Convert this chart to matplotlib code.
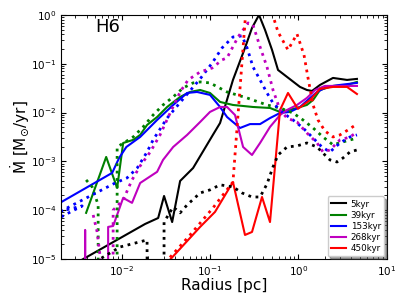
import numpy as np
import matplotlib
matplotlib.use('Agg')
import matplotlib.pyplot as plt

# radius [pc] vs mass inflow rate [Msun/yr]; solid and dotted curve per snapshot
r_5 = [0.00322, 0.0184, 0.0259, 0.0302, 0.0373, 0.0459, 0.0644, 0.108, 0.130, 0.182, 0.249, 0.299,
       0.359, 0.420, 0.504, 0.589, 0.745, 1.045, 1.25, 1.43, 1.76, 2.47, 3.56, 4.61]
md_5 = [8.7e-6, 5.2e-5, 6.9e-5, 1.95e-4, 5.7e-5, 3.96e-4, 7.3e-4, 3.5e-3, 6.1e-3, 0.0466, 0.211, 0.542,
        1.0, 0.493, 0.192, 0.0746, 0.0537, 0.0335, 0.029, 0.0277, 0.0368, 0.0512, 0.0466, 0.0489]
r_5d = [0.00501, 0.00961, 0.0194, 0.0239, 0.0302, 0.0383, 0.0459, 0.0551, 0.0773, 0.100, 0.130, 0.182,
        0.231, 0.299, 0.369, 0.442, 0.517, 0.589, 0.745, 0.966, 1.25, 1.63, 2.00, 2.28, 2.74, 3.20, 3.85, 4.61]
md_5d = [8.7e-6, 1.76e-5, 2.45e-5, 0, 5.7e-5, 1.16e-4, 8.8e-5, 1.28e-4, 2.25e-4, 2.6e-4, 3.3e-4, 3.0e-4,
         2.25e-4, 1.86e-4, 1.86e-4, 3.44e-4, 7.7e-4, 1.35e-3, 1.97e-3, 2.07e-3, 2.38e-3, 1.97e-3, 1.35e-3,
         1.07e-3, 9.7e-4, 1.17e-3, 1.56e-3, 1.71e-3]

r_39 = [0.00396, 0.00668, 0.00889, 0.0104, 0.0135, 0.0162, 0.0194, 0.0252, 0.0327, 0.0459, 0.0595, 0.0773,
        0.100, 0.130, 0.182, 0.307, 0.478, 0.621, 0.966, 1.25, 1.47, 1.76, 2.47, 3.56, 4.61]
md_39 = [8.8e-5, 1.23e-3, 2.85e-4, 2.38e-3, 2.75e-3, 3.48e-3, 5.57e-3, 8.1e-3, 0.0130, 0.0209, 0.0264, 0.0290,
         0.0252, 0.0165, 0.0143, 0.0130, 0.0124, 0.0103, 0.0124, 0.0143, 0.0181, 0.0290, 0.0351, 0.0368, 0.0424]
r_39d = [0.00396, 0.00463, 0.00542, 0.00686, 0.00889, 0.0110, 0.0135, 0.0175, 0.0227, 0.0294, 0.0383, 0.0496,
         0.0644, 0.0773, 0.100, 0.156, 0.263, 0.442, 0.621, 0.871, 1.13, 1.47, 1.90, 2.47, 3.20, 4.61]
md_39d = [4.16e-4, 3.0e-4, 1.28e-4, 0, 1.97e-3, 2.5e-3, 3.16e-3, 5.07e-3, 8.9e-3, 0.0143, 0.0209, 0.0319,
          0.0405, 0.0424, 0.0405, 0.0264, 0.0199, 0.0143, 0.0124, 9.8e-3, 7.05e-3, 4.83e-3, 3.16e-3, 2.18e-3,
          2.5e-3, 3.0e-3]

r_153 = [0.00200, 0.00781, 0.00935, 0.0113, 0.0162, 0.0252, 0.0383, 0.0551, 0.0714, 0.100, 0.130, 0.156,
         0.219, 0.284, 0.369, 0.478, 0.621, 0.805, 1.045, 1.36, 1.63, 2.11, 2.96, 4.61]
md_153 = [1.41e-4, 5.8e-4, 1.17e-3, 1.97e-3, 3.16e-3, 7.05e-3, 0.0143, 0.0252, 0.0264, 0.0230, 0.0130, 8.1e-3,
          4.83e-3, 5.8e-3, 5.8e-3, 7.7e-3, 9.8e-3, 0.0103, 0.0130, 0.0199, 0.0264, 0.0335, 0.0368, 0.0405]
r_153d = [0.00207, 0.00357, 0.00207, 0.00844, 0.0115, 0.0150, 0.0194, 0.0227, 0.0327, 0.0496, 0.0773, 0.106,
          0.137, 0.182, 0.231, 0.263, 0.307, 0.369, 0.442, 0.517, 0.671, 0.871, 1.13, 1.47, 1.85, 2.28, 2.96,
          3.85, 4.61]
md_153d = [7.3e-5, 1.22e-4, 9.6e-5, 3.6e-4, 4.57e-4, 7.3e-4, 1.56e-3, 2.75e-3, 7.7e-3, 0.0190, 0.0489, 0.104,
           0.211, 0.354, 0.372, 0.211, 0.0859, 0.0466, 0.0252, 0.0157, 9.8e-3, 7.05e-3, 4.83e-3, 3.0e-3,
           1.97e-3, 1.56e-3, 2.38e-3, 3.16e-3, 3.48e-3]

r_268 = [0.00330, 0.00386, 0.00463, 0.00571, 0.00703, 0.00801, 0.0104, 0.0131, 0.0162, 0.0252, 0.0294, 0.0383,
         0.0551, 0.0773, 0.100, 0.130, 0.156, 0.192, 0.237, 0.299, 0.369, 0.478, 0.621, 0.745, 0.966, 1.25,
         1.55, 2.00, 2.96, 4.61]
md_268 = [0, 3.93e-5, 0, 0, 4.53e-5, 4.74e-5, 1.78e-4, 1.41e-4, 3.6e-4, 6.1e-4, 1.07e-3, 1.97e-3,
          3.48e-3, 6.4e-3, 0.0103, 0.0130, 0.0130, 8.9e-3, 1.97e-3, 1.35e-3, 2.38e-3, 5.07e-3, 8.9e-3, 0.0113,
          0.0143, 0.0199, 0.0290, 0.0351, 0.0351, 0.0351]
r_268d = [0.00476, 0.00528, 0.00586, 0.00686, 0.00801, 0.0104, 0.0131, 0.0162, 0.0211, 0.0272, 0.0354, 0.0459,
          0.0565, 0.0773, 0.106, 0.137, 0.156, 0.208, 0.270, 0.307, 0.369, 0.442, 0.517, 0.621, 0.745, 0.966,
          1.25, 1.63, 1.90, 2.28, 2.96, 3.85, 4.61]
md_268d = [7.97e-5, 3.57e-5, 7.6e-6, 0, 1.0e-4, 1.62e-4, 4.16e-4, 8.05e-4, 1.56e-3, 3.48e-3, 9.8e-3, 0.0264,
           0.0466, 0.0679, 0.0819, 0.120, 0.132, 0.354, 0.686, 0.624, 0.221, 0.0859, 0.0290, 0.0113, 7.7e-3,
           6.4e-3, 3.82e-3, 2.38e-3, 1.56e-3, 1.71e-3, 2.75e-3, 3.16e-3, 3.97e-3]

r_450 = [0.0327, 0.0773, 0.114, 0.182, 0.249, 0.299, 0.388, 0.478, 0.621, 0.764, 0.99, 1.36, 1.76, 2.47,
         3.56, 4.61]
md_450 = [8.3e-6, 4.53e-5, 9.2e-5, 3.78e-4, 3.1e-5, 3.57e-5, 1.86e-4, 5.7e-5, 0.0113, 0.0252, 0.0119, 0.0181,
          0.0305, 0.0335, 0.0335, 0.0240]
r_450d = [0.0310, 0.0595, 0.108, 0.182, 0.263, 0.420, 0.589, 0.764, 0.966, 1.16, 1.30, 1.47, 1.67, 2.00,
          2.47, 2.96, 3.65, 4.61]
md_450d = [8.3e-6, 3.1e-5, 1.11e-4, 3.78e-4, 2.6, 3.2, 0.449, 0.192, 0.408, 0.151, 0.0466, 0.0143, 7.05e-3,
           4.2e-3, 3.16e-3, 3.48e-3, 4.4e-3, 5.8e-3]

fig = plt.figure(figsize=(4.07, 3.05), dpi=100)
ax = fig.add_axes([0.150, 0.151, 0.800, 0.800])
ax.set_xscale('log')
ax.set_yscale('log')

ax.plot(r_5, md_5, color='k', lw=1.5, label='5kyr')
ax.plot(r_39, md_39, color='g', lw=1.5, label='39kyr')
ax.plot(r_153, md_153, color='b', lw=1.5, label='153kyr')
ax.plot(r_268, md_268, color='m', lw=1.5, label='268kyr')
ax.plot(r_450, md_450, color='r', lw=1.5, label='450kyr')

ax.plot(r_5d, md_5d, color='k', lw=2, ls=':')
ax.plot(r_39d, md_39d, color='g', lw=2, ls=':')
ax.plot(r_153d, md_153d, color='b', lw=2, ls=':')
ax.plot(r_268d, md_268d, color='m', lw=2, ls=':')
ax.plot(r_450d, md_450d, color='r', lw=2, ls=':')

ax.set_xlim(2.06e-3, 10)
ax.set_ylim(1e-5, 1)
ax.tick_params(which='both', direction='in', top=True, right=True, labelsize=7.5)
ax.set_xlabel('Radius [pc]', fontsize=11)
ax.set_ylabel(r'$\dot{\mathrm{M}}$ [M$_{\odot}$/yr]', fontsize=11)
ax.xaxis.set_label_coords(0.5, -0.078)
ax.yaxis.set_label_coords(-0.09, 0.5)
ax.text(0.104, 0.93, 'H6', transform=ax.transAxes, fontsize=13)
ax.legend(loc='lower right', fontsize=6.3, shadow=True, fancybox=True, framealpha=1,
          handlelength=1.8, handletextpad=0.5, borderpad=0.35, borderaxespad=0.3, labelspacing=0.25)

fig.savefig('out.png', dpi=100)
